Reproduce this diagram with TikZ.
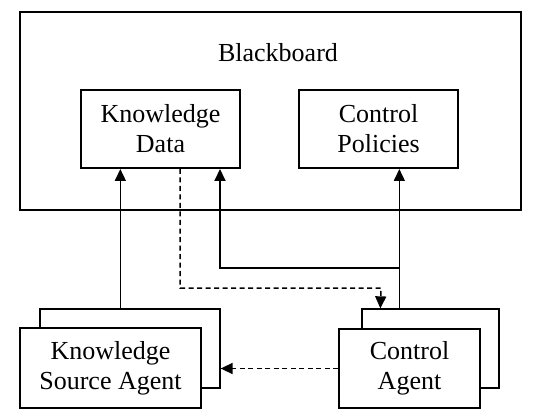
\documentclass[tikz,border=0pt]{standalone}
\usepackage{fontspec}
\setmainfont{Liberation Serif}
\usetikzlibrary{arrows.meta}
\begin{document}
\begin{tikzpicture}[x=1pt,y=-1pt,
  box/.style={draw,line width=2pt,fill=white,inner sep=0pt,align=center,font=\fontsize{26}{30}\selectfont},
  backbox/.style={draw,line width=1.3pt,fill=white,inner sep=0pt},
  arr/.style={line width=1.5pt,-{Triangle[length=12pt,width=11pt]}},
  darr/.style={arr,dash pattern=on 5pt off 3.5pt},
  link/.style={line width=1.5pt}]
\useasboundingbox (0,0) rectangle (534,419);
\node[box,minimum width=501pt,minimum height=198pt] (bb) at (270.5,111) {};
\node[font=\fontsize{26}{30}\selectfont] (bbl) at (278,53) {Blackboard};
\node[box,minimum width=159pt,minimum height=78pt] (kd) at (160.5,129) {Knowledge\\Data};
\node[box,minimum width=159pt,minimum height=78pt] (cp) at (378.5,129) {Control\\Policies};
\node[backbox,minimum width=180pt,minimum height=79pt] (ksab) at (130,348.5) {};
\node[box,minimum width=181pt,minimum height=80pt] (ksaf) at (110.5,368) {Knowledge\\Source Agent};
\node[backbox,minimum width=137pt,minimum height=79pt] (cab) at (430.5,348.5) {};
\node[box,minimum width=141pt,minimum height=79pt] (caf) at (409.5,368.5) {Control\\Agent};
% KSA -> Knowledge Data
\draw[arr] ([xshift=81pt]ksab.north west) -- ([xshift=81pt]ksab.north west |- kd.south);
% Control Agent -> Control Policies
\draw[arr] ([xshift=38pt]cab.north west) -- ([xshift=38pt]cab.north west |- cp.south);
\coordinate (br) at ([xshift=38pt]cab.north west |- 0,268);
\draw[arr,line width=2pt] (br) -| ([xshift=59.5pt]kd.south);
% Knowledge Data -> Control Agent (dashed)
\draw[darr] ([xshift=19.5pt]kd.south) |- (381,288) -- ([xshift=19pt]cab.north west);
% Control Agent -> KSA (dashed)
\draw[darr] (caf.west) -- (caf.west -| ksab.east);
\end{tikzpicture}
\end{document}
